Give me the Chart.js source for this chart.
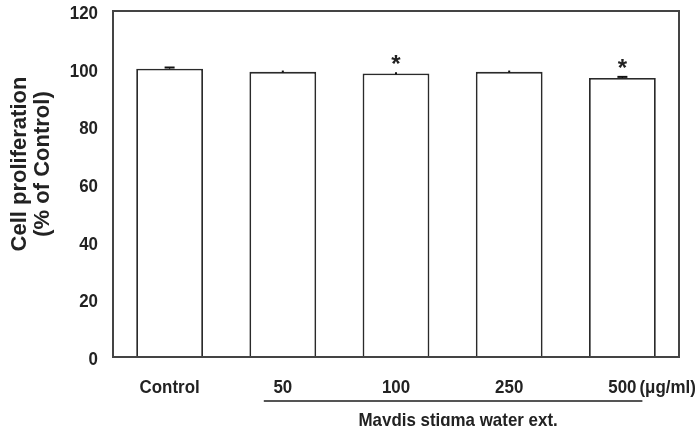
<!DOCTYPE html>
<html>
<head>
<meta charset="utf-8">
<script src="https://cdn.jsdelivr.net/npm/chart.js@4/dist/chart.umd.min.js"></script>
<style>
  html, body { margin: 0; padding: 0; background: #fff; }
  #wrap { width: 698px; height: 426px; }
</style>
</head>
<body>
<div id="wrap"><canvas id="myChart" width="698" height="426"></canvas></div>
<script>
const categories = ['Control', '50', '100', '250', '500'];
const values = [100, 98.9, 98.3, 98.9, 96.8];
const errors = [0.4, 0.1, 0.1, 0.1, 0.35];
const significant = [false, false, true, false, true];
const yTicks = [0, 20, 40, 60, 80, 100, 120];
const unitLabel = '(\u03bcg/ml)';
const groupLabel = 'Maydis stigma water ext.';
const yTitle = ['Cell proliferation', '(% of Control)'];

const ink = '#222';
const labelFont = 'bold 19px "Liberation Sans", Arial, sans-serif';
const squeeze = 0.89; // narrow look of the original labels

function narrowText(ctx, text, x, y, align) {
    ctx.save();
    ctx.translate(x, y);
    ctx.scale(squeeze, 1);
    ctx.textAlign = align;
    ctx.fillText(text, 0, 0);
    ctx.restore();
}

// frame, error bars, asterisks, tick labels, unit and group line
const extras = {
    id: 'extras',
    afterDatasetsDraw(chart) {
        const ctx = chart.ctx;
        const a = chart.chartArea;
        const x = chart.scales.x;
        const y = chart.scales.y;
        ctx.save();

        // error bars (very small ones just show as a dot)
        ctx.strokeStyle = '#111';
        values.forEach((v, i) => {
            const cx = x.getPixelForValue(i);
            const top = y.getPixelForValue(v + errors[i]);
            const bot = y.getPixelForValue(v);
            const cap = errors[i] < 0.2 ? 1 : 5;
            ctx.lineWidth = 1.2;
            ctx.beginPath();
            ctx.moveTo(cx, bot);
            ctx.lineTo(cx, top);
            ctx.stroke();
            ctx.lineWidth = 2;
            ctx.beginPath();
            ctx.moveTo(cx - cap, top);
            ctx.lineTo(cx + cap, top);
            ctx.stroke();
        });

        // asterisks
        ctx.fillStyle = ink;
        ctx.font = 'bold 24px "Liberation Sans", sans-serif';
        ctx.textAlign = 'center';
        ctx.textBaseline = 'alphabetic';
        values.forEach((v, i) => {
            if (!significant[i]) return;
            const cx = x.getPixelForValue(i);
            const top = y.getPixelForValue(v + errors[i]);
            ctx.fillText('*', cx, top - 1);
        });

        // frame
        ctx.strokeStyle = '#444';
        ctx.lineWidth = 2;
        ctx.strokeRect(a.left, a.top, a.right - a.left, a.bottom - a.top);

        // tick labels
        ctx.font = labelFont;
        y.ticks.forEach(t => {
            narrowText(ctx, String(t.value), a.left - 15, y.getPixelForValue(t.value) + 8, 'right');
        });
        categories.forEach((c, i) => {
            narrowText(ctx, x.getLabelForValue(i), x.getPixelForValue(i), 393, 'center');
        });

        // unit next to last label
        narrowText(ctx, unitLabel, x.getPixelForValue(4) + 17, 393, 'left');

        // group line and label
        const x1 = x.getPixelForValue(1) - 19;
        const x2 = x.getPixelForValue(4) + 20;
        ctx.strokeStyle = '#555';
        ctx.lineWidth = 2;
        ctx.beginPath();
        ctx.moveTo(x1, 401);
        ctx.lineTo(x2, 401);
        ctx.stroke();
        narrowText(ctx, groupLabel, (x1 + x2) / 2 + 5, 426, 'center');

        // y title
        ctx.font = 'bold 22px "Liberation Sans", sans-serif';
        ctx.textAlign = 'center';
        ctx.textBaseline = 'middle';
        ctx.translate(0, 164);
        ctx.rotate(-Math.PI / 2);
        ctx.fillText(yTitle[0], 0, 20);
        ctx.fillText(yTitle[1], 0, 43);
        ctx.restore();
    }
};

const data = {
    labels: categories,
    datasets: [{
        data: values,
        backgroundColor: '#ffffff',
        borderColor: '#2a2a2a',
        borderWidth: 1.8,
        categoryPercentage: 1,
        barPercentage: 0.59
    }]
};

const config = {
    type: 'bar',
    data: data,
    options: {
        responsive: false,
        animation: false,
        layout: { padding: { top: 11, right: 19, left: 0, bottom: 0 } },
        plugins: {
            legend: { display: false },
            tooltip: { enabled: false }
        },
        scales: {
            x: {
                grid: { display: false, drawTicks: false },
                border: { display: false },
                ticks: { display: false },
                afterFit: s => { s.height = 69; }
            },
            y: {
                min: 0,
                max: 120,
                grid: { display: false, drawTicks: false },
                border: { display: false },
                afterBuildTicks: s => { s.ticks = yTicks.map(v => ({ value: v })); },
                ticks: { display: false },
                afterFit: s => { s.width = 113; }
            }
        }
    },
    plugins: [extras]
};

const myChart = new Chart(document.getElementById('myChart'), config);
</script>
</body>
</html>
